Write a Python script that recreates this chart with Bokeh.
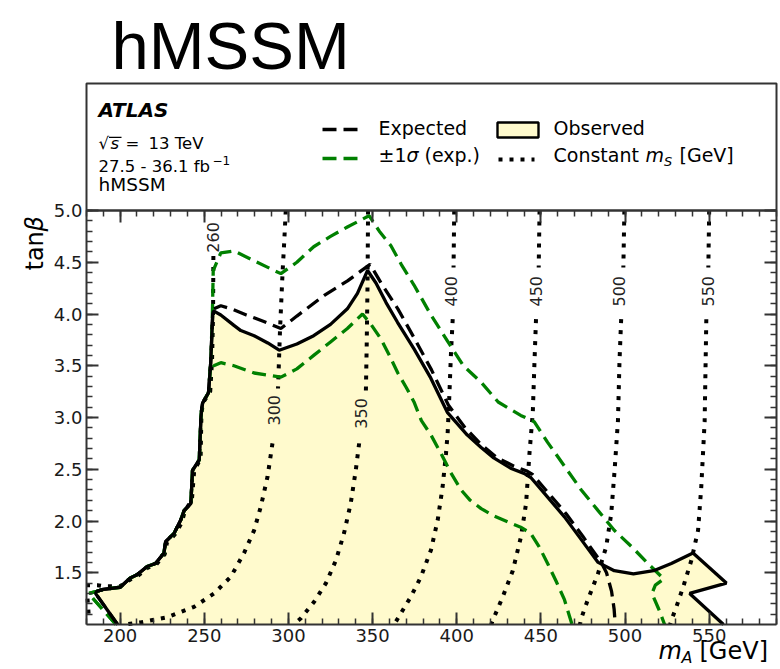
from math import pi

from bokeh.core.properties import value
from bokeh.embed import file_html
from bokeh.models import (Arrow, BoxAnnotation, ColumnDataSource, Label, LinearAxis,
                          NumeralTickFormatter, Range1d, SingleIntervalTicker)
from bokeh.plotting import figure
from bokeh.resources import INLINE

# ---------------------------------------------------------------------------
# Exclusion contours in the (m_A, tan beta) plane
# ---------------------------------------------------------------------------

# kinematic left edge shared by all limit curves (m_A [GeV], tan beta)
edge_x = [186, 190, 200, 206, 210, 216, 221, 226, 227, 232, 236, 238, 242, 243,
          247, 248, 248.5, 249, 252.5, 253.8]
edge_y = [1.32, 1.34, 1.36, 1.45, 1.48, 1.56, 1.59, 1.69, 1.80, 1.88, 2.01, 2.10,
          2.17, 2.49, 2.59, 3.00, 3.09, 3.14, 3.24, 3.53]

# observed exclusion (filled)
obs_x = [198.5, 185.4] + edge_x + [
    255, 255.5, 259.8, 267.6, 271.7, 279.6, 287.7, 294.5, 305, 315, 325, 335, 341,
    347, 352, 358, 364.8, 374.7, 384.6, 394.4, 406.3, 414.5, 422, 432, 440, 444,
    454, 464, 474, 484, 493.6, 505, 517, 527.5, 540.4, 560.2, 538.4, 558.5]
obs_y = [1.00, 1.30] + edge_y + [
    4.00, 4.03, 3.99, 3.89, 3.84, 3.79, 3.72, 3.65, 3.71, 3.79, 3.90, 4.05, 4.20,
    4.42, 4.30, 4.11, 3.92, 3.66, 3.38, 3.05, 2.83, 2.71, 2.61, 2.51, 2.46, 2.42,
    2.23, 2.04, 1.82, 1.60, 1.52, 1.49, 1.52, 1.59, 1.69, 1.40, 1.30, 1.00]

# expected limit
exp_x = [198.5, 185.4] + edge_x + [
    255, 255.5, 259.8, 266, 275, 285, 295.5, 305, 321.3, 335.1, 348.5, 355, 365,
    375, 385, 395, 405, 414.5, 424, 434, 442, 445, 455, 465, 475, 485.8, 489, 492,
    493.5, 494.2]
exp_y = [1.00, 1.30] + edge_y + [
    4.00, 4.05, 4.08, 4.05, 3.99, 3.93, 3.86, 3.98, 4.18, 4.32, 4.48, 4.30, 4.05,
    3.76, 3.46, 3.12, 2.90, 2.74, 2.61, 2.53, 2.48, 2.45, 2.26, 2.07, 1.85, 1.60,
    1.50, 1.32, 1.15, 1.00]

# expected +1 sigma band edge
up_x = [197.5, 181.2] + edge_x + [
    254.8, 255.3, 259.8, 267.6, 280, 295.5, 305, 315, 325, 335, 347.9, 354, 360.9,
    367, 374.6, 384.7, 394.8, 404, 414.5, 424.6, 438, 446, 454, 464, 474, 484,
    493.6, 504, 513.6, 523, 518, 516, 520, 523.5]
up_y = [1.00, 1.30] + edge_y + [
    4.00, 4.42, 4.59, 4.61, 4.51, 4.39, 4.50, 4.65, 4.75, 4.84, 4.95, 4.80, 4.66,
    4.48, 4.28, 3.99, 3.73, 3.50, 3.34, 3.15, 3.02, 2.96, 2.76, 2.53, 2.30, 2.10,
    1.91, 1.75, 1.59, 1.44, 1.38, 1.30, 1.15, 1.00]

# expected -1 sigma band edge
lo_x = [197.5, 181.2] + edge_x + [
    255.6, 259.8, 267.6, 279.6, 295.5, 305, 315, 325, 335, 344, 349, 354.9, 360,
    365, 370, 374.6, 379, 384.7, 390.7, 396, 402.6, 408, 414.5, 422, 430.5, 438,
    444, 449, 454, 459, 464, 468.5]
lo_y = [1.00, 1.30] + edge_y + [
    3.50, 3.53, 3.50, 3.43, 3.39, 3.47, 3.60, 3.73, 3.86, 4.00, 3.90, 3.76, 3.60,
    3.43, 3.29, 3.15, 2.97, 2.83, 2.65, 2.48, 2.30, 2.20, 2.12, 2.05, 1.99, 1.94,
    1.88, 1.75, 1.59, 1.42, 1.24, 1.00]

# constant m_S contours: pieces above and below each inline label
ms_values = ["260", "300", "350", "400", "450", "500", "550"]
ms_label_x = [255.0, 291.3, 343.1, 396.8, 447.2, 496.2, 549.0]
ms_label_y = [4.74, 3.07, 3.04, 4.22, 4.22, 4.22, 4.22]

ms_upper_x = [
    [],
    [298.4, 297.5, 296.5, 295.0, 293.8],
    [347.3, 347.0, 346.5, 346.0],
    [398.5, 398.1],
    [449.2, 448.7],
    [499.6, 499.0],
    [550.0, 549.5],
]
ms_upper_y = [
    [],
    [5.00, 4.70, 4.40, 3.85, 3.28],
    [5.00, 4.30, 3.70, 3.24],
    [5.00, 4.45],
    [5.00, 4.45],
    [5.00, 4.45],
    [5.00, 4.45],
]
ms_lower_x = [
    [255.4, 255.2, 254.6, 253.5, 249.5, 248.3, 247.8, 244, 242.6, 238.5, 236.5,
     232.5, 227.8, 226.5, 221.5, 216.5, 210.5, 206.5, 200, 190, 186.5, 180],
    [290.5, 287.6, 283.6, 279.6, 273.6, 265.7, 255.8, 243.9, 228, 212, 202],
    [342, 340, 337, 333, 328.2, 322.3, 315.3, 307.4, 303],
    [397.6, 396.6, 395.6, 394.6, 393.6, 391.6, 388.7, 384.7, 378.7, 372.8, 363.9, 362],
    [447.1, 446.2, 445.2, 443.2, 441.2, 438.2, 433.3, 427.4, 421.4, 420.5],
    [497.7, 496.7, 495.8, 493.8, 491.8, 488.8, 483.9, 477.9, 474, 473.2],
    [548.3, 547.3, 545.3, 543.4, 539.4, 534.5, 530.5, 527.5, 526.8],
]
ms_lower_y = [
    [4.56, 4.00, 3.55, 3.25, 3.15, 3.05, 2.60, 2.49, 2.20, 2.10, 1.98, 1.87, 1.79,
     1.68, 1.58, 1.55, 1.47, 1.44, 1.37, 1.37, 1.38, 1.38],
    [2.75, 2.43, 2.14, 1.91, 1.69, 1.46, 1.30, 1.17, 1.07, 1.02, 1.00],
    [2.75, 2.49, 2.17, 1.88, 1.62, 1.40, 1.22, 1.06, 1.00],
    [3.95, 3.63, 3.21, 2.85, 2.65, 2.33, 2.01, 1.72, 1.46, 1.27, 1.03, 1.00],
    [3.95, 3.54, 3.05, 2.65, 2.17, 1.85, 1.52, 1.27, 1.04, 1.00],
    [3.95, 3.54, 2.97, 2.49, 2.07, 1.75, 1.49, 1.24, 1.06, 1.00],
    [3.95, 2.96, 2.33, 1.91, 1.62, 1.36, 1.17, 1.04, 1.00],
]
# short stray piece of the 260 GeV contour at the low-mass corner
ms260_tail_x = [180.6, 181.5]
ms260_tail_y = [1.25, 1.05]

# plotted window and ticks
x_lo, x_hi = 180, 590
y_lo, y_hi = 1.0, 5.0
x_tick_step = 50
y_tick_step = 0.5

# ---------------------------------------------------------------------------
# page geometry (pixels) and styling
# ---------------------------------------------------------------------------
W, H = 780, 669
BOX_L, BOX_R = 86, 776        # left / right edge of the axes box
BOX_T, BOX_B = 210, 624       # top / bottom edge of the data area
HEAD_T = 83                   # top edge of the legend header

FONT = "DejaVu Sans"
FILL = "#fffacd"
GREEN = "#008000"
AXIS = "#333333"
LW = 3.3
DASH = "14 7"
DOT = "4 7"
DOT_LW = 4

# the whole canvas is the plotting frame; extend the ranges so that the data
# window lands on the axes box and the margins hold header and axis titles
sx = (BOX_R - BOX_L) / (x_hi - x_lo)
sy = (BOX_B - BOX_T) / (y_hi - y_lo)
x_range = Range1d(x_lo - BOX_L / sx, x_hi + (W - BOX_R) / sx)
y_range = Range1d(y_lo - (H - BOX_B) / sy, y_hi + BOX_T / sy)

p = figure(width=W, height=H, output_backend="svg", toolbar_location=None,
           x_range=x_range, y_range=y_range, x_axis_type=None, y_axis_type=None,
           min_border=0)
p.outline_line_color = None
p.background_fill_color = "white"
p.border_fill_color = "white"

# ---------------------------------------------------------------------------
# axes: four sides of the data box, ticks pointing inwards
# ---------------------------------------------------------------------------
xt = SingleIntervalTicker(interval=x_tick_step, num_minor_ticks=5)
yt = SingleIntervalTicker(interval=y_tick_step, num_minor_ticks=5)

ax_bottom = LinearAxis(ticker=xt, fixed_location=y_lo, bounds=(x_lo, x_hi))
ax_top = LinearAxis(ticker=xt, fixed_location=y_hi, bounds=(x_lo, x_hi))
ax_left = LinearAxis(ticker=yt, fixed_location=x_lo, bounds=(y_lo + 0.001, y_hi),
                     formatter=NumeralTickFormatter(format="0.0"))
ax_right = LinearAxis(ticker=yt, fixed_location=x_hi, bounds=(y_lo + 0.001, y_hi))
p.add_layout(ax_bottom, "below")
p.add_layout(ax_top, "above")
p.add_layout(ax_left, "left")
p.add_layout(ax_right, "right")

for ax in [ax_bottom, ax_left, ax_top, ax_right]:
    ax.major_tick_in = 12
    ax.major_tick_out = 0
    ax.minor_tick_in = 6
    ax.minor_tick_out = 0
    ax.axis_line_color = AXIS
    ax.axis_line_width = 2
    ax.major_tick_line_color = AXIS
    ax.major_tick_line_width = 2
    ax.minor_tick_line_color = AXIS
    ax.minor_tick_line_width = 1.5
    ax.major_label_text_font = FONT
    ax.major_label_text_font_size = "18px"
    ax.major_label_text_color = "#1a1a1a"
    ax.major_label_standoff = 4

# mirrored axes carry ticks only
for ax in [ax_top, ax_right]:
    ax.major_label_text_color = None
    ax.major_label_text_font_size = "0px"
    ax.major_label_standoff = 0

# ---------------------------------------------------------------------------
# data
# ---------------------------------------------------------------------------
p.patch(obs_x, obs_y, fill_color=FILL, line_alpha=0)

for xs, ys in zip(ms_upper_x + ms_lower_x + [ms260_tail_x],
                  ms_upper_y + ms_lower_y + [ms260_tail_y]):
    if xs:
        p.line(xs, ys, line_color="black", line_width=DOT_LW, line_dash=DOT)

lab_src = ColumnDataSource(dict(x=ms_label_x, y=ms_label_y, t=ms_values))
p.text(x="x", y="y", text="t", source=lab_src, angle=pi / 2,
       text_align="center", text_baseline="middle",
       text_font=value(FONT), text_font_size="16px", text_color="#222222")

p.line(up_x, up_y, line_color=GREEN, line_width=LW, line_dash=DASH)
p.line(lo_x, lo_y, line_color=GREEN, line_width=LW, line_dash=DASH)
p.line(exp_x, exp_y, line_color="black", line_width=LW, line_dash=DASH)
p.line(obs_x, obs_y, line_color="black", line_width=LW)

# ---------------------------------------------------------------------------
# texts and legend, positioned in page pixels (x right, y down from the top)
# ---------------------------------------------------------------------------
BASE_SHIFT = 0.46   # baseline correction for alphabetic labels, in em


def text_at(x, y, text, size, shift=BASE_SHIFT, angle=0.0, **kw):
    fs = float(size.replace("px", ""))
    if angle:
        ax_, ay_ = x - shift * fs, H - y
    else:
        ax_, ay_ = x, H - y + shift * fs
    opts = dict(x=ax_, y=ay_, text=text, x_units="screen", y_units="screen",
                text_font=FONT, text_font_size=size, text_color="black",
                text_baseline="alphabetic", text_align="left", angle=angle)
    opts.update(kw)
    p.add_layout(Label(**opts))


def box_at(left, right, top, bottom, **kw):
    p.add_layout(BoxAnnotation(left=left, right=right, bottom=H - bottom, top=H - top,
                               left_units="screen", right_units="screen",
                               bottom_units="screen", top_units="screen", **kw))


def stroke_at(x0, x1, y, **kw):
    p.add_layout(Arrow(end=None, x_start=x0, y_start=H - y, x_end=x1, y_end=H - y,
                       start_units="screen", end_units="screen", **kw))


# title
text_at(111, 70, "hMSSM", "67px", shift=0.37, text_font="Liberation Sans")

# header frame
box_at(BOX_L, BOX_R, HEAD_T, BOX_T, fill_alpha=0, line_color=AXIS, line_alpha=1,
       line_width=2)

# experiment label
text_at(98, 119, "ATLAS", "20px", text_font_style="bold italic")
text_at(98, 151, "\u221a", "16.5px")
text_at(110, 151, "s", "16.5px", text_font_style="italic")
box_at(108.5, 121, 136.2, 137.4, fill_color="black", fill_alpha=1, line_alpha=0)
text_at(125, 151, "=", "16.5px")
text_at(148, 151, "13 TeV", "16.5px")
text_at(98, 174, "27.5 - 36.1 fb", "16.5px")
text_at(212, 166, "\u22121", "12px")
text_at(98, 193, "hMSSM", "18.5px")

# legend
stroke_at(322, 357, 129, line_color="black", line_width=LW, line_dash=DASH)
stroke_at(322, 357, 158, line_color=GREEN, line_width=LW, line_dash=DASH)
text_at(378, 136, "Expected", "19px")
text_at(378, 163, "\u00b11", "19px")
text_at(406, 163, "\u03c3", "19px", text_font_style="italic")
text_at(424, 163, "(exp.)", "19px")

box_at(497, 538, 122, 137, fill_color=FILL, fill_alpha=1,
       line_color="black", line_alpha=1, line_width=2.4)
stroke_at(498, 534, 159, line_color="black", line_width=DOT_LW, line_dash=DOT)
text_at(553, 136, "Observed", "19px")
text_at(553, 163, "Constant", "19px")
text_at(645, 163, "m", "19px", text_font_style="italic")
text_at(663.5, 167, "S", "13px", text_font_style="italic")
text_at(679, 163, "[GeV]", "19px")

# axis titles
text_at(46, 270, "tan", "24px", angle=pi / 2)
text_at(46, 231, "\u03b2", "24px", angle=pi / 2, text_font_style="italic")
text_at(658, 662, "m", "24px", text_font_style="italic")
text_at(681, 664, "A", "16px", text_font_style="italic")
text_at(699, 662, "[GeV]", "24px")

open("out.html", "w").write(file_html(p, INLINE))
